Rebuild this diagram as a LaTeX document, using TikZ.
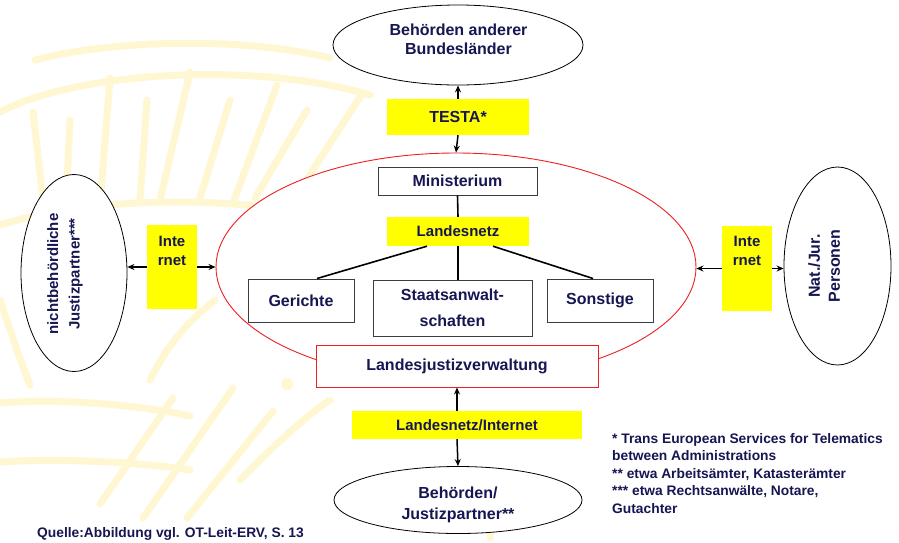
\documentclass[tikz,border=0pt]{standalone}
\usepackage{fontspec}
\setmainfont{Liberation Sans}
\usetikzlibrary{arrows.meta,shapes.geometric,calc}
\definecolor{navy}{RGB}{22,22,82}
\definecolor{boxgray}{RGB}{60,60,60}
\definecolor{ylw}{RGB}{255,255,0}
\definecolor{redline}{RGB}{240,30,30}
\definecolor{wm}{RGB}{255,247,210}
\tikzset{
  f16/.style={font=\bfseries\fontsize{16}{19}\selectfont},
  f15/.style={font=\bfseries\fontsize{15}{19}\selectfont},
  f14/.style={font=\bfseries\fontsize{13.8}{17.5}\selectfont},
  txt/.style={text=navy, inner sep=0pt, align=center},
  oval/.style={draw=black, line width=0.8pt, ellipse, fill=white, inner sep=0pt},
  grbox/.style={draw=boxgray, line width=1pt, fill=white, inner sep=0pt, text=navy, f16, align=center},
  ybox/.style={fill=ylw, inner sep=0pt, text=navy, f15, align=center},
  arr/.style={line width=1.5pt, -{Stealth[length=7pt,width=6pt]}},
  link/.style={line width=1.6pt, black},
  wmline/.style={draw=wm, line width=7pt, line cap=round},
}
\begin{document}
\begin{tikzpicture}[x=1pt,y=-1pt]
\useasboundingbox (0,0) rectangle (899,542);
\fill[white] (0,0) rectangle (899,542);

% faint background emblem
\draw[wmline] (35,60) .. controls (120,38) and (250,38) .. (330,58);
\draw[wmline] (0,112) .. controls (80,70) and (260,62) .. (370,95);
\draw[wmline] (0,225) .. controls (80,200) and (200,195) .. (300,212);
\draw[wmline] (33,112) -- (47,235);
\draw[wmline] (70,120) -- (66,205);
\draw[wmline] (110,78) -- (100,205);
\draw[wmline] (147,100) -- (140,200);
\draw[wmline] (190,72) -- (160,200);
\draw[wmline] (230,100) -- (200,198);
\draw[wmline] (277,85) -- (233,203);
\draw[wmline] (307,110) -- (255,198);
\draw[wmline] (360,97) -- (300,190);
\draw[wmline] (0,403) .. controls (60,398) and (140,405) .. (190,416);
\draw[wmline] (0,462) .. controls (60,458) and (140,462) .. (190,470);
\draw[wmline] (0,300) .. controls (10,330) and (20,360) .. (30,385);
\draw[wmline] (100,504) -- (173,398);
\draw[wmline] (143,518) -- (233,388);
\draw[wmline] (187,518) -- (273,411);
\draw[wmline] (150,380) .. controls (170,340) and (190,320) .. (215,300);
\draw[wmline] (240,480) .. controls (270,450) and (300,420) .. (330,400);
\draw[wmline] (490,505) -- (490,538);
\fill[wm] (287,384) circle (6pt);

% outer ellipses
\node[oval, minimum width=250pt, minimum height=80pt] (top) at (458,45) {};
\node[txt, f16, anchor=north] (toptxt) at (458.5,23.5) {Behörden anderer\\Bundesländer};

\node[oval, minimum width=248pt, minimum height=67pt] (bot) at (458,500) {};
\node[txt, anchor=north, font=\bfseries\fontsize{16}{20.5}\selectfont] (bottxt) at (458,487) {Behörden/\\Justizpartner**};

\node[oval, minimum width=106pt, minimum height=197pt] (lell) at (74,273) {};
\node[txt, anchor=north, rotate=90, font=\bfseries\fontsize{15}{21.5}\selectfont] (lelltxt) at (47,274) {nichtbehördliche\\Justizpartner***};

\node[oval, minimum width=107pt, minimum height=198pt] (rell) at (837.5,266) {};
\node[txt, anchor=north, rotate=90, font=\bfseries\fontsize{16}{20}\selectfont] (relltxt) at (808,266) {Nat./Jur.\\Personen};

% red ellipse
\node[draw=redline, fill=white, line width=0.9pt, ellipse, minimum width=480pt, minimum height=228pt, inner sep=0pt] (red) at (456,267) {};

% inner boxes
\node[grbox, minimum width=159pt, minimum height=28pt] (min) at (457.5,181) {Ministerium};
\node[ybox, minimum width=142pt, minimum height=29pt] (lnetz) at (458,231.5) {Landesnetz};
\node[grbox, minimum width=106pt, minimum height=43pt] (ger) at (301,300.5) {Gerichte};
\node[grbox, minimum width=159pt, minimum height=56pt, font=\bfseries\fontsize{16}{25.5}\selectfont] (sta) at (452.5,308) {Staatsanwalt-\\schaften};
\node[grbox, minimum width=106pt, minimum height=43pt] (son) at (600,300.5) {Sonstige};

\node[draw=redline, line width=1pt, fill=white, inner sep=0pt, minimum width=282pt, minimum height=42pt, text=navy, f16] (ljv) at (457,366) {Landesjustizverwaltung};

% yellow connector labels
\node[ybox, minimum width=142pt, minimum height=36pt, f16] (testa) at (458,117) {TESTA*};
\node[ybox, minimum width=230pt, minimum height=28pt] (lni) at (467,425) {Landesnetz/Internet};
\node[ybox, minimum width=50pt, minimum height=84pt] (inL) at (172,267) {};
\node[txt, f15, anchor=north] (inLt) at ($(inL.north)+(0,11)$) {Inte\\rnet};
\node[ybox, minimum width=50pt, minimum height=85pt] (inR) at (747,268.5) {};
\node[txt, f15, anchor=north] (inRt) at ($(inR.north)+(0,10)$) {Inte\\rnet};

% tree links
\draw[link] (min.south) -- (lnetz.north);
\draw[link] ($(lnetz.south)+(-31,0)$) -- ($(ger.north)+(16,0)$);
\draw[link] (lnetz.south) -- (lnetz.south |- sta.north);
\draw[link] ($(lnetz.south)+(35,0)$) -- ($(son.north)+(-7,0)$);

% arrows
\draw[arr] (testa.north) -- (top.south);
\draw[arr] (testa.south) -- (red.north);
\draw[arr] (inL.west) -- (inL.west -| lell.east);
\draw[arr] (inL.east) -- (inL.east -| red.west);
\draw[arr] (inR.west) -- (inR.west -| red.east);
\draw[arr] (inR.east) -- (inR.east -| rell.west);
\draw[arr] (ljv.south |- lni.north) -- (ljv.south);
\draw[arr] (ljv.south |- lni.south) -- (bot.north);

% footnotes
\node[txt, f14, anchor=north west, align=left, fill=white, inner sep=4pt] (notes) at (608,429) {* Trans European Services for Telematics\\between Administrations\\** etwa Arbeitsämter, Katasterämter\\*** etwa Rechtsanwälte, Notare,\\Gutachter};
\node[txt, f14, anchor=base west, fill=white, inner xsep=10pt, inner ysep=5pt] (quelle) at (27,537) {Quelle:Abbildung vgl. OT-Leit-ERV, S. 13};
\end{tikzpicture}
\end{document}
